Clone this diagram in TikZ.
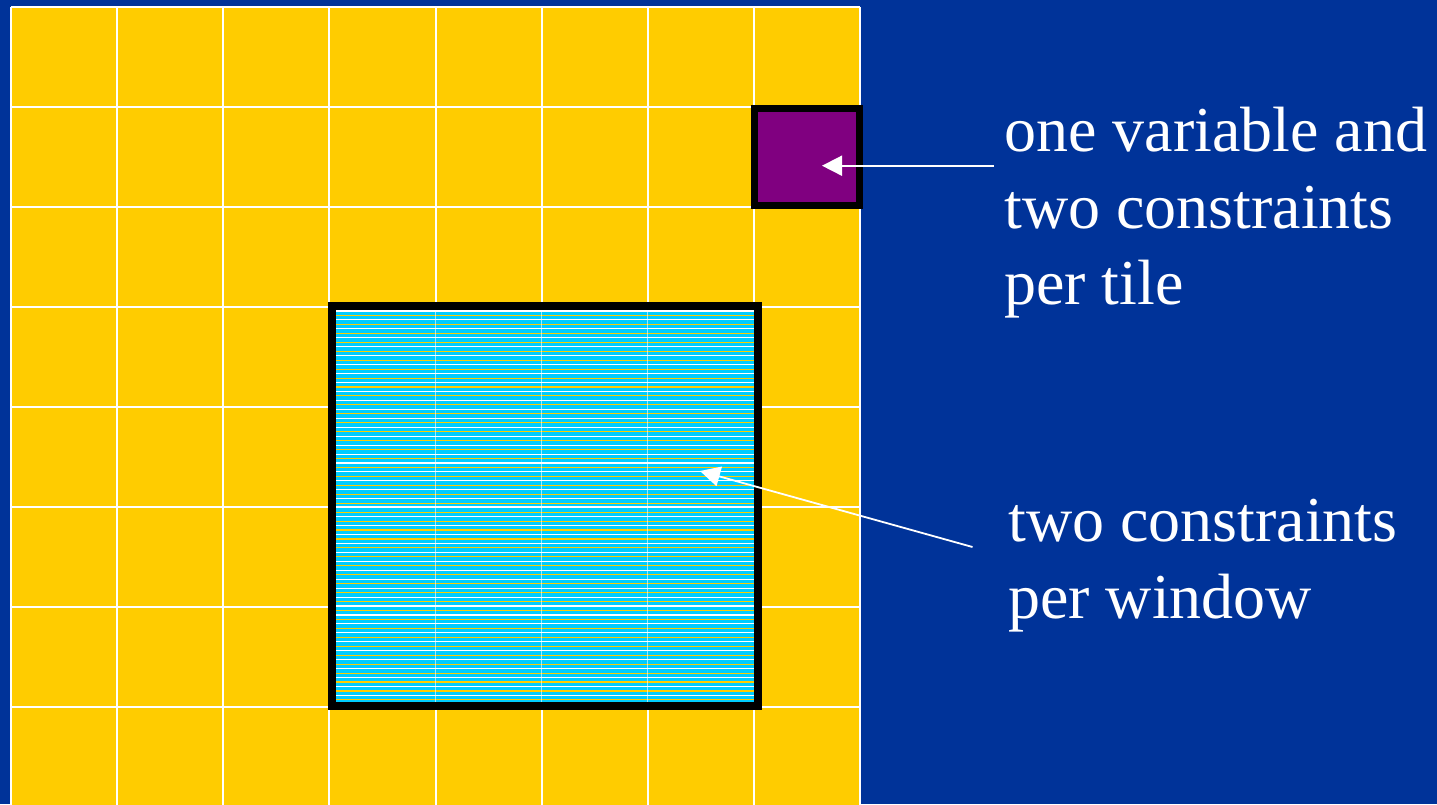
\documentclass[tikz,border=0pt]{standalone}
\usepackage{fontspec}
\setmainfont{Liberation Serif}
\usetikzlibrary{arrows.meta}
\definecolor{bgblue}{RGB}{0,51,153}
\definecolor{tileyellow}{RGB}{255,204,0}
\definecolor{wincyan}{RGB}{0,204,255}
\definecolor{tilepurple}{RGB}{128,0,128}
\tikzset{
  gridline/.style={draw=white, line width=2pt},
  arr/.style={draw=white, line width=1.8pt, -{Triangle[length=20pt,width=20pt]}},
  lbl/.style={text=white, anchor=base west, align=left, inner sep=0pt,
    font=\fontsize{64}{76.5}\selectfont},
  tilebox/.style={draw=black, line width=7pt, fill=tilepurple, minimum width=105.5pt, minimum height=97pt, inner sep=0pt},
  winbox/.style={draw=black, line width=8pt, fill=wincyan, minimum width=426.5pt, minimum height=400pt, inner sep=0pt}
}
\begin{document}
\begin{tikzpicture}[x=1pt,y=-1pt]
\useasboundingbox (0,0) rectangle (1437,804);
\clip (0,0) rectangle (1437,804);
\fill[bgblue] (0,0) rectangle (1437,804);
% board
\fill[tileyellow] (11,7) rectangle (860,820);
\foreach \i in {0,...,8} {
  \draw[gridline] ({11+106.125*\i},7) -- ({11+106.125*\i},820);
}
\foreach \j in {0,...,7} {
  \draw[gridline] (11,{7+100*\j}) -- (860,{7+100*\j});
}
% window (path picture uses coordinates relative to the node centre)
\node[winbox, path picture={
  \foreach \k in {0,...,87} {
    \pgfmathsetmacro{\yy}{311+4.47*\k-505.5}
    \ifodd\k
      \draw[tileyellow, line width=1.1pt] (-230,\yy) -- (230,\yy);
    \else
      \draw[white, line width=1.1pt] (-230,\yy) -- (230,\yy);
    \fi
  }
  \foreach \i in {4,5,6} {
    \draw[white, line width=1pt, opacity=0.6] ({11+106.125*\i-544.75},-210) -- ({11+106.125*\i-544.75},210);
  }
  \draw[white, line width=1.5pt] (-230,1.5) -- (230,1.5);
}] (win) at (544.75,505.5) {};
% tile
\node[tilebox] (tile) at (806.75,156.5) {};
% labels (base = baseline of last line)
\node[lbl] (lbl1) at (1004,304.7) {one variable and\\two constraints\\per tile};
\node[lbl] (lbl2) at (1008,618.2) {two constraints\\per window};
% arrows
\coordinate (tail1) at (994,165.7);
\coordinate (tip1) at (822,165.7);
\coordinate (tail2) at (972.5,547);
\coordinate (tip2) at (700,471);
\draw[arr] (tail1) -- (tip1);
\draw[arr] (tail2) -- (tip2);
\end{tikzpicture}
\end{document}
